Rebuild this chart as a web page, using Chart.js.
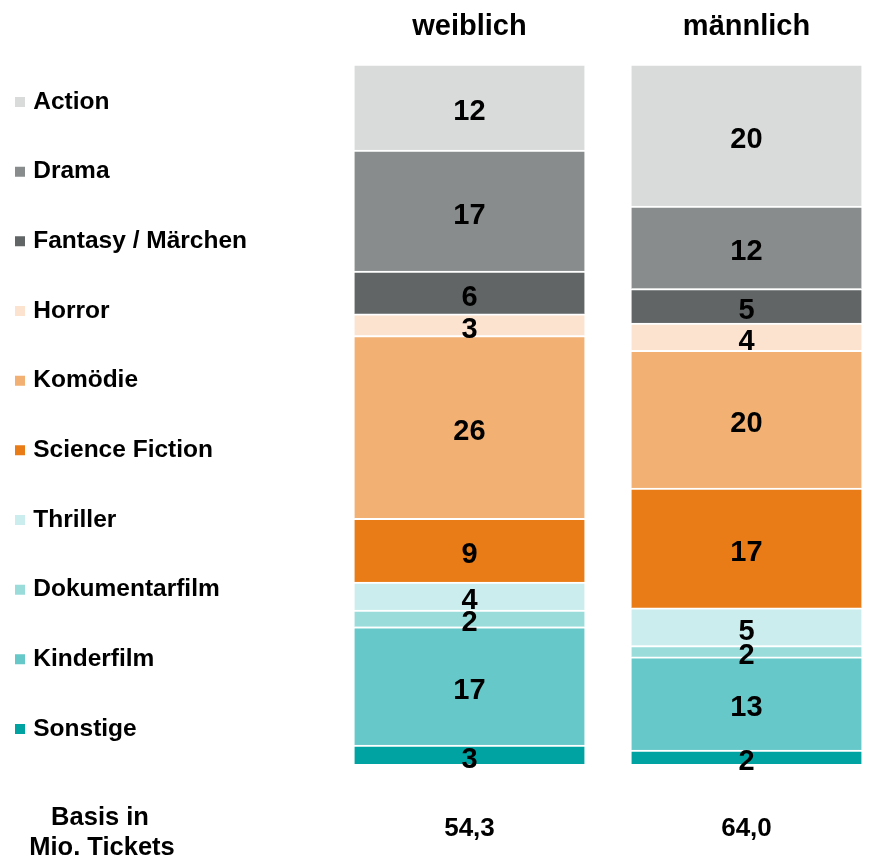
<!DOCTYPE html>
<html>
<head>
<meta charset="utf-8">
<script src="https://cdn.jsdelivr.net/npm/chart.js@4"></script>
<style>
html, body { margin: 0; padding: 0; background: #ffffff; }
canvas { display: block; }
</style>
</head>
<body>
<canvas id="c" width="874" height="866"></canvas>
<script>
// ---- data ----
const genders = ['weiblich', 'männlich'];
const basis = ['54,3', '64,0'];
const genres = ['Action', 'Drama', 'Fantasy / Märchen', 'Horror', 'Komödie', 'Science Fiction', 'Thriller', 'Dokumentarfilm', 'Kinderfilm', 'Sonstige'];
const weiblich = [12.3, 17.3, 6.1, 3.1, 26.1, 9.1, 4.0, 2.4, 16.9, 2.7];
const maennlich = [20.3, 11.8, 4.9, 3.9, 19.7, 17.1, 5.4, 1.6, 13.3, 2.0];
const colors = ['#D9DADA', '#898C8C', '#616566', '#FBE3D0', '#F2B173', '#EA7C17', '#CCEDED', '#99DCDA', '#66C8C8', '#00A3A2'];
const basisTitle = ['Basis in', 'Mio. Tickets'];

const FONT = '"Liberation Sans", Arial, Helvetica, sans-serif';
Chart.defaults.font.family = FONT;
Chart.defaults.color = '#000';

// datasets: bottom of stack first (Sonstige) -> top (Action)
const datasets = genres.map((g, k) => ({
  label: g,
  data: [{ x: 0, y: weiblich[k] }, { x: 1, y: maennlich[k] }],
  backgroundColor: colors[k],
  borderColor: '#ffffff',
  borderWidth: { top: 2, right: 0, bottom: 0, left: 0 },
  borderSkipped: false,
  barThickness: 230,
  xAxisID: 'x',
  yAxisID: 'y'
})).reverse();

const valueLabels = {
  id: 'valueLabels',
  afterDatasetsDraw(chart) {
    const ctx = chart.ctx;
    ctx.save();
    ctx.font = 'bold 29px ' + FONT;
    ctx.fillStyle = '#000';
    ctx.textAlign = 'center';
    ctx.textBaseline = 'middle';
    chart.data.datasets.forEach((ds, di) => {
      const meta = chart.getDatasetMeta(di);
      meta.data.forEach((el, i) => {
        const p = el.getProps(['x', 'y', 'base'], true);
        ctx.fillText(String(Math.round(ds.data[i].y)), p.x, (p.y + p.base) / 2 + 5);
      });
    });
    ctx.restore();
  }
};

const basisLabel = {
  id: 'basisLabel',
  afterDraw(chart) {
    const ctx = chart.ctx;
    ctx.save();
    ctx.font = 'bold 25.5px ' + FONT;
    ctx.fillStyle = '#000';
    ctx.textAlign = 'center';
    ctx.textBaseline = 'middle';
    ctx.fillText(basisTitle[0], 100, 818);
    ctx.fillText(basisTitle[1], 102, 848);
    ctx.restore();
  }
};

const tickPositions = (axis) => { axis.ticks = genders.map((g, i) => ({ value: i })); };
const X_MIN = -0.7671;
const X_MAX = 1.4603;

new Chart(document.getElementById('c'), {
  type: 'bar',
  data: { datasets },
  plugins: [valueLabels, basisLabel],
  options: {
    responsive: false,
    animation: false,
    events: [],
    layout: { padding: { left: -26.17, top: -10, right: 0, bottom: -28 } },
    scales: {
      x: {
        type: 'linear', position: 'top', stacked: true, offset: false,
        min: X_MIN, max: X_MAX,
        afterBuildTicks: tickPositions,
        grid: { display: false, drawTicks: false }, border: { display: false },
        ticks: { autoSkip: false, maxRotation: 0, padding: 19.6, font: { size: 29, weight: 'bold' }, color: '#000', callback: (v) => genders[v] }
      },
      x2: {
        type: 'linear', position: 'bottom', offset: false,
        min: X_MIN, max: X_MAX,
        afterBuildTicks: tickPositions,
        grid: { display: false, drawTicks: false }, border: { display: false },
        ticks: { autoSkip: false, maxRotation: 0, padding: 49.4, font: { size: 26, weight: 'bold' }, color: '#000', callback: (v) => basis[v] }
      },
      y: { display: false, stacked: true, min: 0, max: 100 }
    },
    plugins: {
      tooltip: { enabled: false },
      legend: {
        position: 'left', align: 'start', reverse: true, maxWidth: 400,
        title: { display: true, text: '', font: { size: 10 }, padding: { top: 42.58, bottom: 0 } },
        labels: {
          usePointStyle: true, pointStyle: 'rect', boxWidth: 2, boxHeight: 10, padding: 45.17,
          color: '#000', font: { size: 24.5, weight: 'bold' },
          generateLabels(chart) {
            const items = Chart.defaults.plugins.legend.labels.generateLabels(chart);
            items.forEach(it => { it.lineWidth = 0; });
            return items;
          }
        }
      }
    }
  }
});
</script>
</body>
</html>
